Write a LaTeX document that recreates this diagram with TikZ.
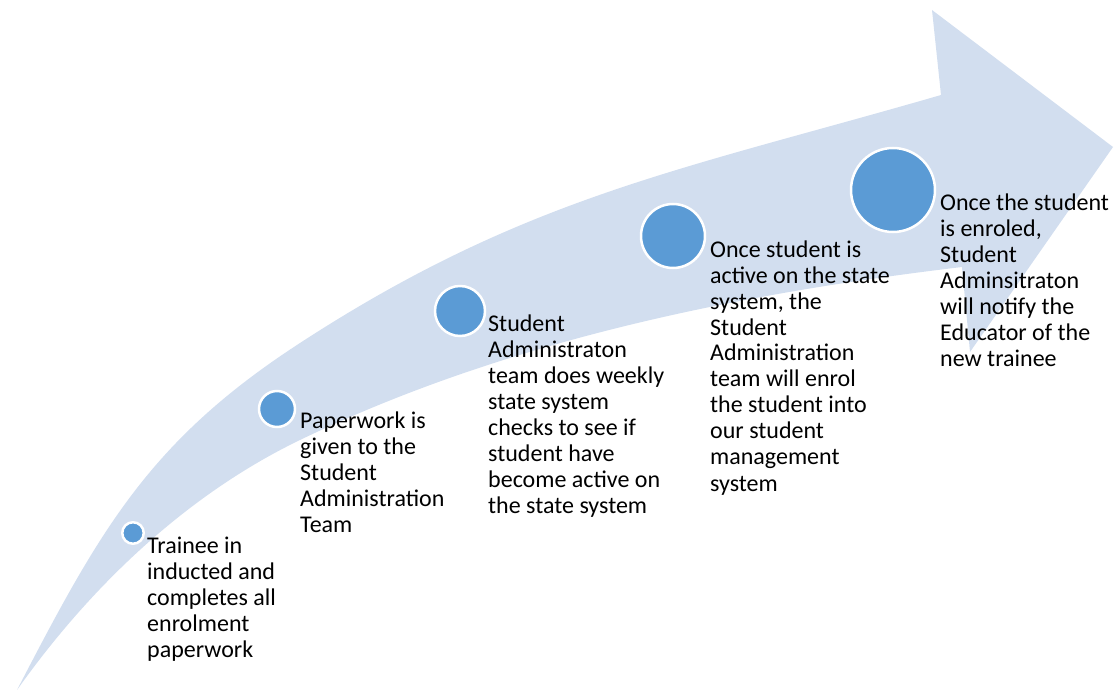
\documentclass[tikz,border=0pt]{standalone}
\usepackage{fontspec}
\setmainfont{Carlito}
\definecolor{bandblue}{HTML}{D2DEEF}
\definecolor{dotblue}{HTML}{5B9BD5}
\begin{document}
\begin{tikzpicture}[x=1pt,y=-1pt,
  dot/.style={circle,fill=dotblue,draw=white,line width=2.5pt,inner sep=0pt},
  lbl/.style={anchor=base west,inner sep=0pt,font=\fontsize{24}{26}\selectfont}]
\useasboundingbox (0,0) rectangle (1117,690);
% band arrow
\fill[bandblue] (17,690) .. controls (100,530) and (149,441) .. (300,343)
  .. controls (526,196) and (682,170) .. (941,95)
  -- (932,10) -- (1113,147) -- (970,352) -- (962,267)
  .. controls (736,294) and (505,341) .. (300,440)
  .. controls (186,495) and (90,587) .. (17,690) -- cycle;
% dots
\node[dot,minimum size=21.5pt] (c1) at (133,533) {};
\node[dot,minimum size=36pt] (c2) at (277,409) {};
\node[dot,minimum size=50pt] (c3) at (460,311) {};
\node[dot,minimum size=64pt] (c4) at (673,236) {};
\node[dot,minimum size=84pt] (c5) at (893,190) {};
% labels
\node[lbl] (t1) at (147,553) {\begin{tabular}[t]{@{}l@{}}Trainee in\\inducted and\\completes all\\enrolment\\paperwork\end{tabular}};
\node[lbl] (t2) at (300,428) {\begin{tabular}[t]{@{}l@{}}Paperwork is\\given to the\\Student\\Administration\\Team\end{tabular}};
\node[lbl] (t3) at (488,331) {\begin{tabular}[t]{@{}l@{}}Student\\Administraton\\team does weekly\\state system\\checks to see if\\student have\\become active on\\the state system\end{tabular}};
\node[lbl] (t4) at (710,257) {\begin{tabular}[t]{@{}l@{}}Once student is\\active on the state\\system, the\\Student\\Administration\\team will enrol\\the student into\\our student\\management\\system\end{tabular}};
\node[lbl] (t5) at (940,211) {\begin{tabular}[t]{@{}l@{}}Once the student\\is enroled,\\Student\\Adminsitraton\\will notify the\\Educator of the\\new trainee\end{tabular}};
\end{tikzpicture}
\end{document}
